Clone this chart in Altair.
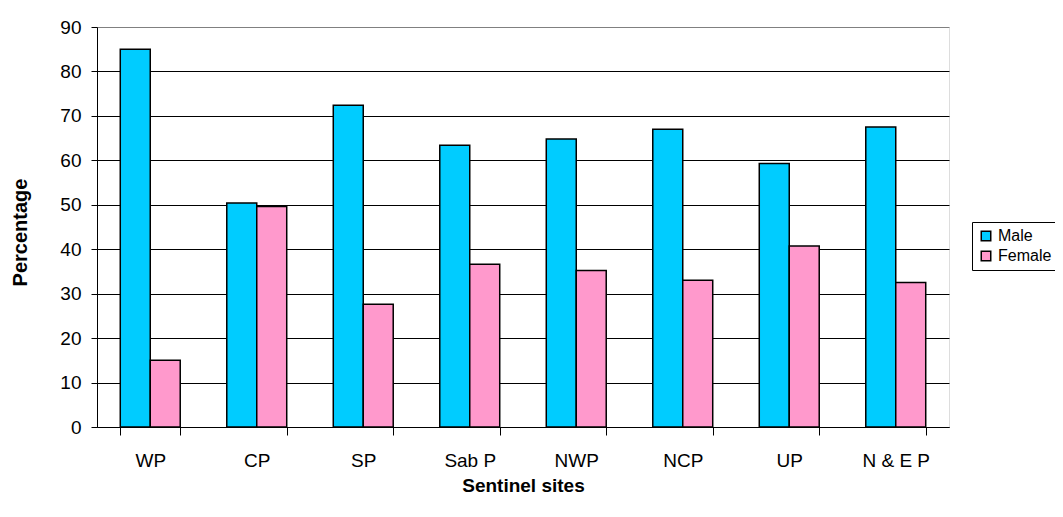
import altair as alt
import pandas as pd

sites = ["WP", "CP", "SP", "Sab P", "NWP", "NCP", "UP", "N & E P"]
male = [85.0, 50.4, 72.4, 63.4, 64.8, 67.0, 59.3, 67.5]
female = [15.0, 49.6, 27.6, 36.6, 35.2, 33.0, 40.7, 32.5]
series = ["Male", "Female"]
colors = ["#00CCFF", "#FF99CC"]
yticks = [0, 10, 20, 30, 40, 50, 60, 70, 80, 90]

rows = []
for s, m, f in zip(sites, male, female):
    rows.append({"site": s, "sex": "Male", "value": m})
    rows.append({"site": s, "sex": "Female", "value": f})
df = pd.DataFrame(rows)

FONT = "Liberation Sans"

chart = alt.Chart(df).mark_bar(stroke="black", strokeWidth=1.5).encode(
    x=alt.X("site:N", sort=sites,
            scale=alt.Scale(paddingInner=0.437, paddingOuter=0.2185),
            axis=alt.Axis(title="Sentinel sites", labelAngle=0, tickBand="extent",
                          tickSize=8, tickColor="black", domainColor="black",
                          labelFontSize=19, labelPadding=16, labelColor="black",
                          titleFontSize=19, titleFontWeight="bold", titleColor="black",
                          titleY=58, titleBaseline="middle", grid=False)),
    xOffset=alt.XOffset("sex:N", sort=series, scale=alt.Scale(paddingInner=0, paddingOuter=0)),
    y=alt.Y("value:Q",
            scale=alt.Scale(domain=[0, 90], nice=False),
            axis=alt.Axis(title="Percentage", values=yticks, tickSize=6, tickColor="black",
                          domainColor="black", labelFontSize=19, labelPadding=10,
                          labelColor="black",
                          gridColor={"condition": {"test": "datum.value === 90", "value": "#808080"},
                                     "value": "black"},
                          gridOpacity=1, grid=True,
                          titleFontSize=20, titleFontWeight="bold", titleColor="black",
                          titleX=-77, titleY=205, titleAngle=-90, titleAlign="center",
                          titleBaseline="middle")),
    color=alt.Color("sex:N", sort=series,
                    scale=alt.Scale(domain=series, range=colors),
                    legend=alt.Legend(title=None, orient="none", legendX=875, legendY=195,
                                      symbolType="square", symbolSize=90,
                                      symbolStrokeColor="black", symbolStrokeWidth=1.5,
                                      labelFontSize=16, labelColor="black",
                                      rowPadding=4, padding=6, strokeColor="black",
                                      fillColor="white", labelOffset=4)),
).properties(
    width=852, height=400,
    autosize=alt.AutoSizeParams(type="none"),
    padding={"left": 89, "top": 19, "right": 106, "bottom": 82},
).configure_view(
    stroke="#808080", strokeWidth=1.5
).configure(
    font=FONT
)

chart.save("out.html", embed_options={"renderer": "svg", "actions": False})
